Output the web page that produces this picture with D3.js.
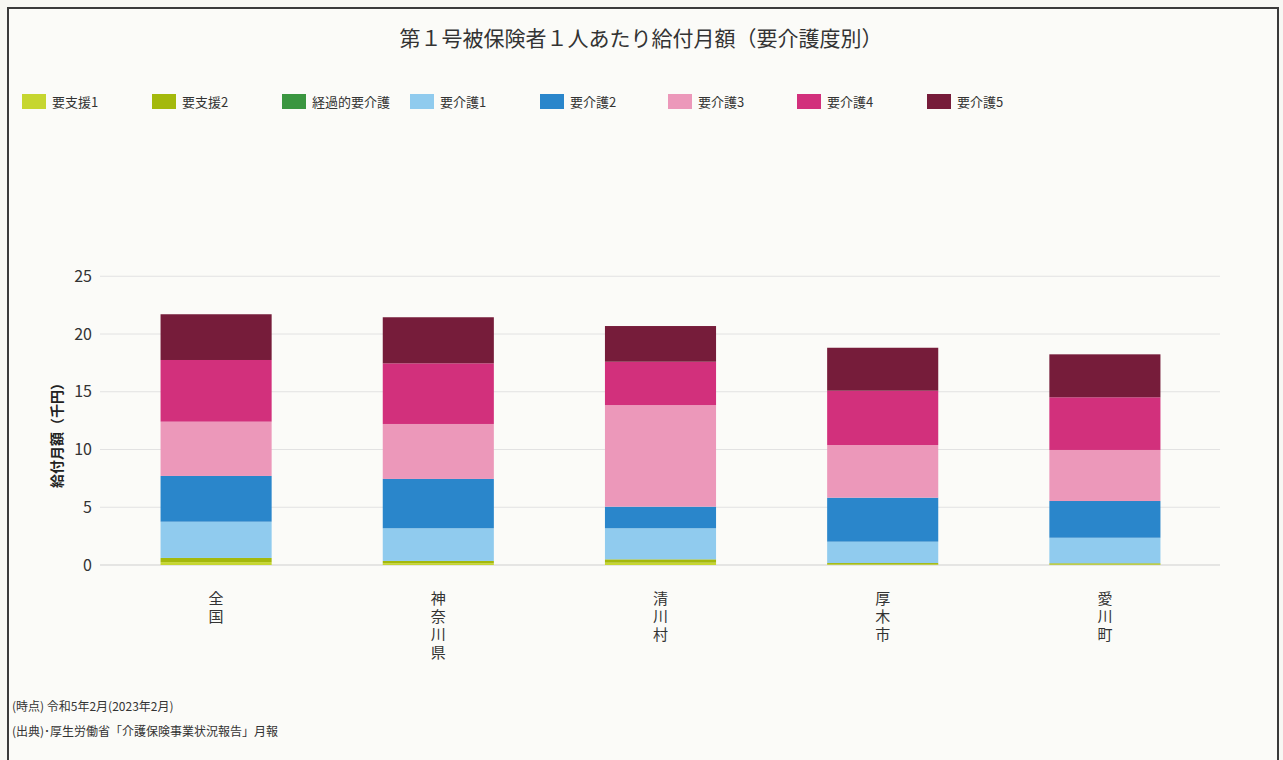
<!DOCTYPE html>
<html lang="ja">
<head>
<meta charset="utf-8">
<script src="https://cdn.jsdelivr.net/npm/d3@7/dist/d3.min.js"></script>
<style>
  html, body { margin: 0; padding: 0; background: #f7f7f3; }
  svg { display: block; font-family: "Noto Sans CJK JP", "Noto Sans", sans-serif; }
  .vlabel { writing-mode: vertical-rl; text-orientation: upright; }
</style>
</head>
<body>
<svg id="chart" width="1283" height="760"></svg>
<script>
// 地域（横軸カテゴリ）
const categories = ["全国", "神奈川県", "清川村", "厚木市", "愛川町"];

// 要介護度別 第1号被保険者1人あたり給付月額（千円）
const shienA   = [0.25, 0.15, 0.20, 0.05, 0.05]; // 要支援1
const shienB   = [0.36, 0.20, 0.29, 0.12, 0.10]; // 要支援2
const keika    = [0, 0, 0, 0, 0];                // 経過的要介護
const kaigo1   = [3.14, 2.83, 2.69, 1.85, 2.21];
const kaigo2   = [3.96, 4.27, 1.87, 3.81, 3.18];
const kaigo3   = [4.70, 4.76, 8.80, 4.56, 4.42];
const kaigo4   = [5.34, 5.25, 3.75, 4.70, 4.56];
const kaigo5   = [3.96, 3.99, 3.09, 3.72, 3.72];

const seriesNames = ["要支援1", "要支援2", "経過的要介護", "要介護1", "要介護2", "要介護3", "要介護4", "要介護5"];
const seriesValues = [shienA, shienB, keika, kaigo1, kaigo2, kaigo3, kaigo4, kaigo5];
const seriesColors = ["#c6d630", "#a4b90c", "#3a9640", "#90cbee", "#2a86cb", "#ec98ba", "#d2307c", "#761c3a"];

const yTicks = [0, 5, 10, 15, 20, 25];

const svg = d3.select("#chart");

// 外枠
svg.append("rect")
  .attr("x", 8).attr("y", 8).attr("width", 1270).attr("height", 760)
  .attr("fill", "#fbfbf8").attr("stroke", "#3a3a3a").attr("stroke-width", 2);

// タイトル
svg.append("text")
  .attr("x", 641).attr("y", 46)
  .attr("text-anchor", "middle")
  .attr("font-size", 21)
  .attr("fill", "#333")
  .text("第１号被保険者１人あたり給付月額（要介護度別）");

// 凡例
const legendX = [22, 152, 282, 410, 540, 668, 797, 927];
const legend = svg.append("g");
seriesNames.forEach((name, i) => {
  legend.append("rect")
    .attr("x", legendX[i]).attr("y", 94)
    .attr("width", 24).attr("height", 15)
    .attr("fill", seriesColors[i]);
  legend.append("text")
    .attr("x", legendX[i] + 30).attr("y", 107)
    .attr("font-size", 13)
    .attr("fill", "#333")
    .text(name);
});

// スケール
const x = d3.scaleBand()
  .domain(categories)
  .range([105, 1216])
  .paddingInner(0.5)
  .paddingOuter(0.25);

const y = d3.scaleLinear()
  .domain([0, 25])
  .range([565, 276.25]);

// グリッド線
svg.append("g")
  .selectAll("line")
  .data(yTicks)
  .join("line")
  .attr("x1", 100).attr("x2", 1220)
  .attr("y1", d => y(d)).attr("y2", d => y(d))
  .attr("stroke", d => d === 0 ? "#cfcfcf" : "#e2e2e2")
  .attr("stroke-width", 1);

// 縦軸
const yAxis = svg.append("g")
  .attr("transform", "translate(92,0)")
  .call(d3.axisLeft(y).tickValues(yTicks).tickSize(0).tickPadding(0));
yAxis.select(".domain").remove();
yAxis.selectAll("text")
  .attr("font-size", 16)
  .attr("fill", "#333")
  .attr("font-family", "\"Noto Sans CJK JP\", sans-serif");

// 縦軸タイトル
svg.append("text")
  .attr("transform", "translate(62,432) rotate(-90)")
  .attr("text-anchor", "middle")
  .attr("font-size", 14)
  .attr("font-weight", "bold")
  .attr("fill", "#222")
  .text("給付月額（千円）");

// 積み上げ棒
const table = categories.map((c, i) => {
  const row = { category: c };
  seriesNames.forEach((s, k) => { row[s] = seriesValues[k][i]; });
  return row;
});
const stacked = d3.stack().keys(seriesNames)(table);

svg.append("g")
  .selectAll("g")
  .data(stacked)
  .join("g")
  .attr("fill", (d, i) => seriesColors[i])
  .selectAll("rect")
  .data(d => d)
  .join("rect")
  .attr("x", d => x(d.data.category))
  .attr("width", x.bandwidth())
  .attr("y", d => y(d[1]))
  .attr("height", d => y(d[0]) - y(d[1]));

// 横軸ラベル（縦書き）
svg.append("g")
  .selectAll("text")
  .data(categories)
  .join("text")
  .attr("class", "vlabel")
  .attr("x", c => x(c) + x.bandwidth() / 2)
  .attr("y", 591)
  .attr("font-size", 15)
  .attr("letter-spacing", 3)
  .attr("fill", "#333")
  .text(c => c);

// 注記
const notes = svg.append("g").attr("font-size", 12).attr("fill", "#333");
notes.append("text").attr("x", 12).attr("y", 711).text("(時点) 令和5年2月(2023年2月)");
notes.append("text").attr("x", 12).attr("y", 736).text("(出典)･厚生労働省「介護保険事業状況報告」月報");
</script>
</body>
</html>
